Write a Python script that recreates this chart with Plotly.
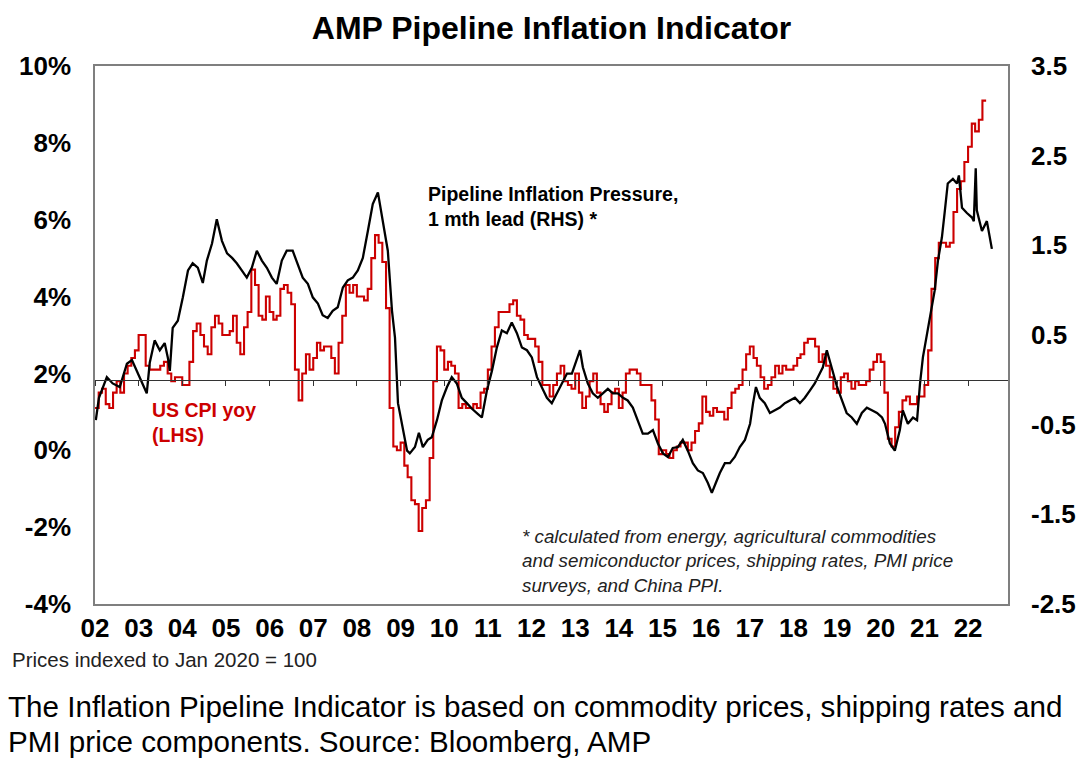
import pandas as pd
import plotly.graph_objects as go

# US CPI yoy (%), monthly from Jan 2002 (LHS)
cpi = [
    1.1, 1.1, 1.5, 1.6, 1.2, 1.1, 1.5, 1.8, 1.5, 2.0, 2.2, 2.4,   # 2002
    2.6, 3.0, 3.0, 2.2, 2.1, 2.1, 2.1, 2.2, 2.3, 2.0, 1.8, 1.9,   # 2003
    1.9, 1.7, 1.7, 2.3, 3.1, 3.3, 3.0, 2.7, 2.5, 3.2, 3.5, 3.3,   # 2004
    3.0, 3.0, 3.1, 3.5, 2.8, 2.5, 3.2, 3.6, 4.7, 4.3, 3.5, 3.4,   # 2005
    4.0, 3.6, 3.4, 3.5, 4.2, 4.3, 4.1, 3.8, 2.1, 1.3, 2.0, 2.5,   # 2006
    2.1, 2.4, 2.8, 2.6, 2.7, 2.7, 2.4, 2.0, 2.8, 3.5, 4.3, 4.1,   # 2007
    4.3, 4.0, 4.0, 3.9, 4.2, 5.0, 5.6, 5.4, 4.9, 3.7, 1.1, 0.1,   # 2008
    0.0, 0.2, -0.4, -0.7, -1.3, -1.4, -2.1, -1.5, -1.3, -0.2, 1.8, 2.7,  # 2009
    2.6, 2.1, 2.3, 2.2, 2.0, 1.1, 1.2, 1.1, 1.1, 1.2, 1.1, 1.5,   # 2010
    1.6, 2.1, 2.7, 3.2, 3.6, 3.6, 3.6, 3.8, 3.9, 3.5, 3.4, 3.0,   # 2011
    2.9, 2.9, 2.7, 2.3, 1.7, 1.7, 1.4, 1.7, 2.0, 2.2, 1.8, 1.7,   # 2012
    1.6, 2.0, 1.5, 1.1, 1.4, 1.8, 2.0, 1.5, 1.2, 1.0, 1.2, 1.5,   # 2013
    1.6, 1.1, 1.5, 2.0, 2.1, 2.1, 2.0, 1.7, 1.7, 1.7, 1.3, 0.8,   # 2014
    -0.1, 0.0, -0.1, -0.2, 0.0, 0.1, 0.2, 0.2, 0.0, 0.2, 0.5, 0.7,  # 2015
    1.4, 1.0, 0.9, 1.1, 1.0, 1.0, 0.8, 1.1, 1.5, 1.6, 1.7, 2.1,   # 2016
    2.5, 2.7, 2.4, 2.2, 1.9, 1.6, 1.7, 1.9, 2.2, 2.0, 2.2, 2.1,   # 2017
    2.1, 2.2, 2.4, 2.5, 2.8, 2.9, 2.9, 2.7, 2.3, 2.5, 2.2, 1.9,   # 2018
    1.6, 1.5, 1.9, 2.0, 1.8, 1.6, 1.8, 1.7, 1.7, 1.8, 2.1, 2.3,   # 2019
    2.5, 2.3, 1.5, 0.3, 0.1, 0.6, 1.0, 1.3, 1.4, 1.2, 1.2, 1.4,   # 2020
    1.4, 1.7, 2.6, 4.2, 5.0, 5.4, 5.4, 5.3, 5.4, 6.2, 6.8, 7.0,   # 2021
    7.5, 7.9, 8.5, 8.3, 8.6, 9.1,                                 # 2022
]
cpi_dates = pd.date_range("2002-01-01", periods=len(cpi), freq="MS")

# Pipeline inflation pressure, 1 mth lead (RHS)
pipe_dates = [
    "2002-01-08", "2002-02-03", "2002-04-10", "2002-05-29", "2002-07-27", "2002-09-25", "2002-11-06", "2002-12-16",
    "2003-01-28", "2003-03-10", "2003-04-04", "2003-05-15", "2003-06-27", "2003-08-07", "2003-09-02", "2003-09-19", "2003-10-13", "2003-11-25",
    "2004-01-06", "2004-02-18", "2004-03-28", "2004-05-10", "2004-06-21", "2004-07-25", "2004-09-06", "2004-10-16", "2004-11-28",
    "2005-01-10", "2005-02-21", "2005-04-01", "2005-05-13", "2005-06-24", "2005-08-05", "2005-09-16", "2005-10-28", "2005-12-09",
    "2006-01-20", "2006-03-01", "2006-04-13", "2006-05-24", "2006-07-13", "2006-08-24", "2006-10-05", "2006-11-17", "2006-12-28",
    "2007-02-09", "2007-03-21", "2007-05-02", "2007-06-13", "2007-07-25", "2007-09-06", "2007-10-17", "2007-11-28",
    "2008-01-09", "2008-02-20", "2008-04-02", "2008-05-13", "2008-06-25", "2008-07-28", "2008-08-22", "2008-09-16", "2008-10-21", "2008-11-15", "2008-12-10",
    "2009-01-21", "2009-02-24", "2009-03-19", "2009-05-01", "2009-06-03", "2009-07-06", "2009-08-16", "2009-09-19", "2009-11-01", "2009-12-12",
    "2010-01-24", "2010-03-05", "2010-04-16", "2010-05-28", "2010-07-09", "2010-08-19", "2010-10-01", "2010-11-12", "2010-12-24",
    "2011-02-04", "2011-03-17", "2011-04-28", "2011-06-09", "2011-07-20", "2011-09-01", "2011-10-13", "2011-11-24",
    "2012-01-04", "2012-02-16", "2012-03-28", "2012-05-09", "2012-06-19", "2012-08-01", "2012-09-12", "2012-10-24", "2012-12-04",
    "2013-01-16", "2013-02-10", "2013-03-06", "2013-04-16", "2013-05-28", "2013-07-09", "2013-08-20", "2013-10-01", "2013-11-12", "2013-12-24",
    "2014-02-05", "2014-03-16", "2014-04-28", "2014-06-09", "2014-07-20", "2014-09-01", "2014-10-13", "2014-11-24",
    "2015-01-05", "2015-02-16", "2015-03-28", "2015-05-09", "2015-06-20", "2015-08-01", "2015-09-12", "2015-10-24", "2015-12-05",
    "2016-01-16", "2016-02-18", "2016-03-22", "2016-04-25", "2016-06-06", "2016-07-18", "2016-08-28", "2016-10-09", "2016-11-21",
    "2017-01-03", "2017-01-28", "2017-02-21", "2017-03-25", "2017-05-06", "2017-06-18", "2017-07-28", "2017-09-09", "2017-10-21", "2017-12-03",
    "2018-01-13", "2018-02-24", "2018-04-06", "2018-05-18", "2018-06-28", "2018-08-09", "2018-09-04", "2018-10-07", "2018-11-18",
    "2019-01-01", "2019-02-11", "2019-03-22", "2019-05-04", "2019-06-15", "2019-07-27", "2019-09-07", "2019-10-19", "2019-12-01",
    "2020-01-12", "2020-02-06", "2020-03-18", "2020-04-28", "2020-06-09", "2020-07-04", "2020-08-15", "2020-09-27", "2020-10-31", "2020-11-25", "2020-12-19",
    "2021-01-22", "2021-03-04", "2021-03-28", "2021-04-24", "2021-05-27", "2021-06-21", "2021-07-15", "2021-08-27", "2021-09-30", "2021-10-16", "2021-11-11", "2021-12-22",
    "2022-02-03", "2022-02-18", "2022-03-06", "2022-03-15", "2022-04-27", "2022-06-07", "2022-07-01", "2022-07-19",
]
pipe = [
    -0.45, -0.20, 0.03, -0.04, -0.08, 0.18, 0.22, 0.10,
    -0.03, -0.15, 0.19, 0.44, 0.33, 0.41, 0.25, 0.10, 0.58, 0.66,
    0.92, 1.22, 1.30, 1.25, 1.08, 1.33, 1.52, 1.79, 1.55,
    1.41, 1.36, 1.30, 1.22, 1.14, 1.25, 1.44, 1.33, 1.25,
    1.14, 1.07, 1.33, 1.44, 1.44, 1.30, 1.14, 1.07, 0.92,
    0.85, 0.72, 0.69, 0.77, 0.81, 1.03, 1.11, 1.14,
    1.22, 1.36, 1.66, 1.96, 2.09, 1.85, 1.66, 1.44, 0.77, 0.47, -0.26,
    -0.56, -0.79, -0.82, -0.75, -0.59, -0.75, -0.67, -0.64, -0.45, -0.23,
    -0.08, 0.03, -0.04, -0.20, -0.26, -0.32, -0.37, -0.42, -0.12,
    0.10, 0.36, 0.55, 0.52, 0.64, 0.52, 0.36, 0.33,
    0.25, 0.03, -0.08, -0.20, -0.26, -0.15, -0.04, 0.07, 0.07,
    0.22, 0.33, 0.14, -0.04, -0.15, -0.20, -0.15, -0.10, -0.15, -0.15,
    -0.20, -0.23, -0.31, -0.45, -0.60, -0.60, -0.56, -0.71,
    -0.82, -0.86, -0.76, -0.75, -0.67, -0.79, -0.93, -1.01, -1.04,
    -1.15, -1.26, -1.15, -1.04, -0.93, -0.93, -0.86, -0.75, -0.67,
    -0.49, -0.26, -0.08, -0.20, -0.26, -0.37, -0.34, -0.31, -0.26, -0.23,
    -0.20, -0.26, -0.20, -0.12, -0.04, 0.07, 0.14, 0.33, 0.14,
    -0.08, -0.23, -0.37, -0.42, -0.49, -0.37, -0.31, -0.34, -0.37,
    -0.42, -0.49, -0.71, -0.79, -0.56, -0.34, -0.49, -0.42, -0.45, -0.04, 0.25,
    0.52, 0.81, 1.00, 1.33, 1.59, 1.89, 2.19, 2.24, 2.19, 2.28, 1.92, 1.86,
    1.81, 1.77, 2.36, 1.89, 1.66, 1.77, 1.59, 1.46,
]

lhs_ticks = [-4, -2, 0, 2, 4, 6, 8, 10]
rhs_ticks = [-2.5, -1.5, -0.5, 0.5, 1.5, 2.5, 3.5]
x_range = ["2002-01-01", "2022-12-01"]

font_family = "Liberation Sans, Arial, sans-serif"
frame_col = "#7f7f7f"
red = "#cc0000"

# the page puts the figure 8px in from the top-left corner
W, H = 1071, 762
OFF = 8

fig = go.Figure()

# CPI drawn as monthly steps
fig.add_trace(
    go.Scatter(
        x=cpi_dates,
        y=cpi,
        mode="lines",
        line=dict(color=red, width=2.1, shape="vh"),
        name="US CPI yoy (LHS)",
        xaxis="x",
        yaxis="y",
    )
)

fig.add_trace(
    go.Scatter(
        x=pipe_dates,
        y=pipe,
        mode="lines",
        line=dict(color="black", width=2.3),
        name="Pipeline Inflation Pressure (RHS)",
        xaxis="x2",
        yaxis="y2",
    )
)

tick_font = dict(family=font_family, size=26, color="black", weight="bold")

fig.update_layout(
    width=W,
    height=H,
    margin=dict(l=95 - OFF, r=W - (1008 - OFF), t=66 - OFF, b=H - (604.5 - OFF)),
    paper_bgcolor="white",
    plot_bgcolor="white",
    showlegend=False,
    font=dict(family=font_family, color="black"),
    title=dict(
        text="AMP Pipeline Inflation Indicator",
        x=0.5,
        xref="paper",
        xanchor="center",
        y=1 - (28 - OFF) / H,
        yref="container",
        yanchor="middle",
        pad=dict(t=0, b=0),
        font=dict(family=font_family, size=32, color="black", weight="bold"),
    ),
    xaxis=dict(
        type="date",
        range=x_range,
        tick0="2002-01-01",
        dtick="M12",
        tickformat="%y",
        ticks="",
        ticklabelstandoff=0,
        showline=True,
        linecolor=frame_col,
        linewidth=1.5,
        mirror=True,
        showgrid=False,
        zeroline=False,
        automargin=False,
        tickfont=tick_font,
    ),
    # axis line through RHS zero, with yearly tick marks
    xaxis2=dict(
        type="date",
        overlaying="x",
        range=x_range,
        anchor="free",
        position=2.5 / 6,
        tick0="2002-01-01",
        dtick="M12",
        ticks="outside",
        ticklen=5,
        tickwidth=1,
        tickcolor="#333333",
        showticklabels=False,
        showline=True,
        linecolor="#333333",
        linewidth=1.2,
        showgrid=False,
        zeroline=False,
        automargin=False,
    ),
    yaxis=dict(
        range=[-4, 10],
        tickvals=lhs_ticks,
        ticktext=[f"{v}%" for v in lhs_ticks],
        ticks="",
        ticklabelstandoff=17,
        showline=True,
        linecolor=frame_col,
        linewidth=1.5,
        mirror=True,
        showgrid=False,
        zeroline=False,
        automargin=False,
        tickfont=tick_font,
    ),
    yaxis2=dict(
        overlaying="y",
        side="right",
        anchor="x",
        range=[-2.5, 3.5],
        tickvals=rhs_ticks,
        ticktext=[f"{v:.1f}" for v in rhs_ticks],
        ticks="",
        ticklabelstandoff=22,
        showline=False,
        showgrid=False,
        zeroline=False,
        automargin=False,
        tickfont=tick_font,
    ),
)


def px_x(px):
    return (px - 95) / 913


def px_y(py):
    return (604.5 - py) / 538.5


def add_text(text, left, mid, size, color="black", weight="normal", style="normal"):
    fig.add_annotation(
        text=text,
        xref="paper", yref="paper", x=px_x(left), y=px_y(mid),
        xanchor="left", yanchor="middle", align="left", showarrow=False,
        font=dict(family=font_family, size=size, color=color, weight=weight, style=style),
    )


add_text("Pipeline Inflation Pressure,<br>1 mth lead (RHS) *", 426, 207, 19.5, weight="bold")
add_text("US CPI yoy<br>(LHS)", 150, 423, 19.5, color=red, weight="bold")
add_text(
    "* calculated from energy, agricultural commodities<br>"
    "and semiconductor prices, shipping rates, PMI price<br>"
    "surveys, and China PPI.",
    520, 561, 18.8, color="#222222", style="italic",
)
add_text("Prices indexed to Jan 2020 = 100", 10, 660, 20.5, color="#222222")
add_text("The Inflation Pipeline Indicator is based on commodity prices, shipping rates and", 6, 707, 29.6)
add_text("PMI price components. Source: Bloomberg, AMP", 6, 742, 29.6)

fig.write_html("out.html")
